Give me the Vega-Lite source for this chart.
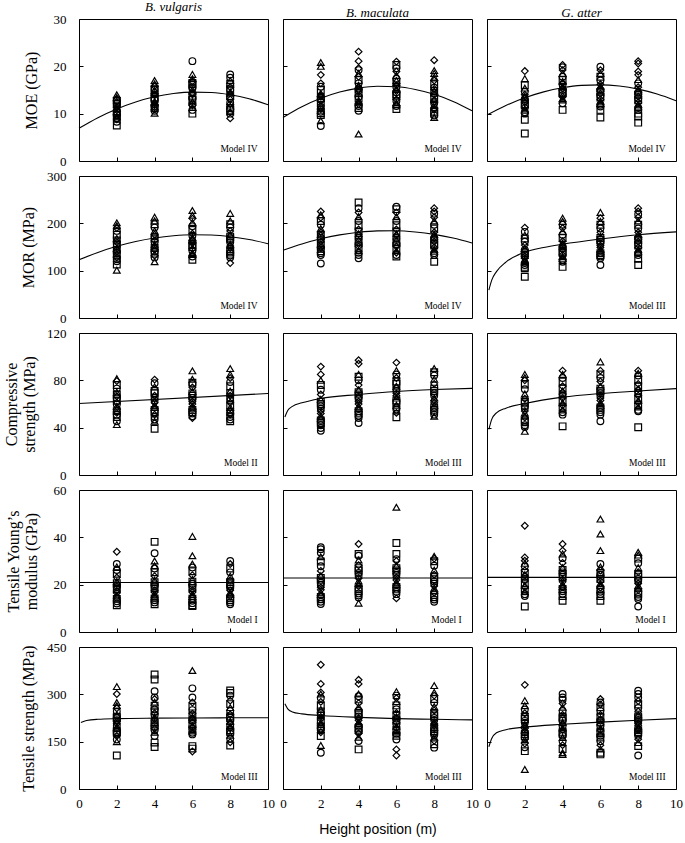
{
"$schema":"https://vega.github.io/schema/vega-lite/v6.json",
"padding":{"left":3,"top":0,"right":5,"bottom":5},
"columns":3,"align":"each","bounds":"flush","spacing":15,
"datasets":{
"lab":[{"p":"11","t":"Model IV"},{"p":"12","t":"Model IV"},{"p":"13","t":"Model IV"},{"p":"21","t":"Model IV"},{"p":"22","t":"Model IV"},{"p":"23","t":"Model III"},{"p":"31","t":"Model II"},{"p":"32","t":"Model III"},{"p":"33","t":"Model III"},{"p":"41","t":"Model I"},{"p":"42","t":"Model I"},{"p":"43","t":"Model I"},{"p":"51","t":"Model III"},{"p":"52","t":"Model III"},{"p":"53","t":"Model III"}],
"fit":[
{"p":"11","x":0,"y":6.9},{"p":"11","x":1,"y":9.15},{"p":"11","x":2,"y":11.0},{"p":"11","x":3,"y":12.47},{"p":"11","x":4,"y":13.56},{"p":"11","x":5,"y":14.25},{"p":"11","x":6,"y":14.56},{"p":"11","x":7,"y":14.47},{"p":"11","x":8,"y":14.0},{"p":"11","x":9,"y":13.15},{"p":"11","x":10,"y":11.9},
{"p":"12","x":0,"y":9.2},{"p":"12","x":1,"y":11.45},{"p":"12","x":2,"y":13.24},{"p":"12","x":3,"y":14.56},{"p":"12","x":4,"y":15.4},{"p":"12","x":5,"y":15.78},{"p":"12","x":6,"y":15.68},{"p":"12","x":7,"y":15.12},{"p":"12","x":8,"y":14.09},{"p":"12","x":9,"y":12.58},{"p":"12","x":10,"y":10.6},
{"p":"13","x":0,"y":9.7},{"p":"13","x":1,"y":11.72},{"p":"13","x":2,"y":13.36},{"p":"13","x":3,"y":14.61},{"p":"13","x":4,"y":15.48},{"p":"13","x":5,"y":15.98},{"p":"13","x":6,"y":16.09},{"p":"13","x":7,"y":15.83},{"p":"13","x":8,"y":15.18},{"p":"13","x":9,"y":14.15},{"p":"13","x":10,"y":12.75},
{"p":"21","x":0,"y":123},{"p":"21","x":1,"y":138.6},{"p":"21","x":2,"y":151.5},{"p":"21","x":3,"y":161.7},{"p":"21","x":4,"y":169.1},{"p":"21","x":5,"y":173.9},{"p":"21","x":6,"y":175.9},{"p":"21","x":7,"y":175.2},{"p":"21","x":8,"y":171.8},{"p":"21","x":9,"y":165.7},{"p":"21","x":10,"y":157},
{"p":"22","x":0,"y":143},{"p":"22","x":1,"y":156.5},{"p":"22","x":2,"y":167.4},{"p":"22","x":3,"y":175.6},{"p":"22","x":4,"y":181.2},{"p":"22","x":5,"y":184.05},{"p":"22","x":6,"y":184.3},{"p":"22","x":7,"y":181.8},{"p":"22","x":8,"y":176.7},{"p":"22","x":9,"y":168.9},{"p":"22","x":10,"y":158.5},
{"p":"23","x":0.1,"y":59},{"p":"23","x":0.25,"y":80},{"p":"23","x":0.5,"y":98},{"p":"23","x":1,"y":118},{"p":"23","x":2,"y":139},{"p":"23","x":3,"y":149},{"p":"23","x":4,"y":156},{"p":"23","x":6,"y":167},{"p":"23","x":8,"y":176},{"p":"23","x":10,"y":182},
{"p":"31","x":0,"y":60.4},{"p":"31","x":10,"y":68.9},
{"p":"32","x":0.1,"y":49},{"p":"32","x":0.25,"y":54.5},{"p":"32","x":0.5,"y":58},{"p":"32","x":1,"y":61},{"p":"32","x":2,"y":64.7},{"p":"32","x":4,"y":68},{"p":"32","x":6,"y":70.6},{"p":"32","x":8,"y":72.2},{"p":"32","x":10,"y":73.2},
{"p":"33","x":0.1,"y":38.6},{"p":"33","x":0.25,"y":47},{"p":"33","x":0.5,"y":52.5},{"p":"33","x":1,"y":56.5},{"p":"33","x":2,"y":60.4},{"p":"33","x":4,"y":65.8},{"p":"33","x":6,"y":68.9},{"p":"33","x":8,"y":71},{"p":"33","x":10,"y":73},
{"p":"41","x":0,"y":20.9},{"p":"41","x":10,"y":20.9},
{"p":"42","x":0,"y":22.8},{"p":"42","x":10,"y":22.8},
{"p":"43","x":0,"y":23.1},{"p":"43","x":10,"y":23.1},
{"p":"51","x":0.1,"y":211},{"p":"51","x":0.4,"y":217},{"p":"51","x":1,"y":221},{"p":"51","x":2,"y":223},{"p":"51","x":4,"y":224.5},{"p":"51","x":6,"y":225.2},{"p":"51","x":8,"y":225.6},{"p":"51","x":10,"y":226},
{"p":"52","x":0.1,"y":270},{"p":"52","x":0.25,"y":254},{"p":"52","x":0.5,"y":244},{"p":"52","x":1,"y":238},{"p":"52","x":2,"y":233},{"p":"52","x":4,"y":227},{"p":"52","x":6,"y":223},{"p":"52","x":8,"y":221},{"p":"52","x":10,"y":219},
{"p":"53","x":0.1,"y":134},{"p":"53","x":0.25,"y":160},{"p":"53","x":0.5,"y":178},{"p":"53","x":1,"y":188},{"p":"53","x":2,"y":196},{"p":"53","x":4,"y":205},{"p":"53","x":6,"y":212},{"p":"53","x":8,"y":218},{"p":"53","x":10,"y":223}
],
"pts":[
{"p":"11","x":2,"m":"s","y":7.5},{"p":"11","x":2,"m":"o","y":8.3},{"p":"11","x":2,"m":"d","y":8.8},{"p":"11","x":2,"m":"t","y":9.3},{"p":"11","x":2,"m":"o","y":9.8},{"p":"11","x":2,"m":"s","y":10.2},{"p":"11","x":2,"m":"d","y":10.7},{"p":"11","x":2,"m":"t","y":11.1},{"p":"11","x":2,"m":"o","y":11.6},{"p":"11","x":2,"m":"s","y":12.0},{"p":"11","x":2,"m":"d","y":12.5},{"p":"11","x":2,"m":"o","y":12.9},{"p":"11","x":2,"m":"t","y":13.4},{"p":"11","x":2,"m":"t","y":14.0},
{"p":"11","x":4,"m":"t","y":10.1},{"p":"11","x":4,"m":"o","y":10.6},{"p":"11","x":4,"m":"s","y":11.2},{"p":"11","x":4,"m":"d","y":11.8},{"p":"11","x":4,"m":"t","y":12.3},{"p":"11","x":4,"m":"o","y":12.9},{"p":"11","x":4,"m":"s","y":13.4},{"p":"11","x":4,"m":"d","y":13.9},{"p":"11","x":4,"m":"o","y":14.4},{"p":"11","x":4,"m":"t","y":14.9},{"p":"11","x":4,"m":"s","y":15.3},{"p":"11","x":4,"m":"d","y":15.8},{"p":"11","x":4,"m":"t","y":16.3},{"p":"11","x":4,"m":"t","y":17.0},
{"p":"11","x":6,"m":"s","y":10.0},{"p":"11","x":6,"m":"o","y":10.8},{"p":"11","x":6,"m":"d","y":11.7},{"p":"11","x":6,"m":"t","y":12.5},{"p":"11","x":6,"m":"o","y":13.2},{"p":"11","x":6,"m":"s","y":13.8},{"p":"11","x":6,"m":"d","y":14.4},{"p":"11","x":6,"m":"t","y":15.0},{"p":"11","x":6,"m":"o","y":15.6},{"p":"11","x":6,"m":"s","y":16.2},{"p":"11","x":6,"m":"d","y":16.8},{"p":"11","x":6,"m":"t","y":17.4},{"p":"11","x":6,"m":"t","y":18.3},{"p":"11","x":6,"m":"o","y":21.1},
{"p":"11","x":8,"m":"d","y":9.0},{"p":"11","x":8,"m":"o","y":10.0},{"p":"11","x":8,"m":"s","y":10.8},{"p":"11","x":8,"m":"t","y":11.6},{"p":"11","x":8,"m":"o","y":12.3},{"p":"11","x":8,"m":"d","y":13.0},{"p":"11","x":8,"m":"s","y":13.7},{"p":"11","x":8,"m":"t","y":14.3},{"p":"11","x":8,"m":"o","y":15.0},{"p":"11","x":8,"m":"d","y":15.6},{"p":"11","x":8,"m":"s","y":16.3},{"p":"11","x":8,"m":"t","y":17.0},{"p":"11","x":8,"m":"o","y":17.6},{"p":"11","x":8,"m":"o","y":18.3},
{"p":"12","x":2,"m":"o","y":7.4},{"p":"12","x":2,"m":"t","y":8.5},{"p":"12","x":2,"m":"s","y":9.7},{"p":"12","x":2,"m":"o","y":10.4},{"p":"12","x":2,"m":"d","y":11.0},{"p":"12","x":2,"m":"t","y":11.7},{"p":"12","x":2,"m":"s","y":12.3},{"p":"12","x":2,"m":"o","y":13.0},{"p":"12","x":2,"m":"d","y":13.6},{"p":"12","x":2,"m":"t","y":14.3},{"p":"12","x":2,"m":"s","y":15.0},{"p":"12","x":2,"m":"o","y":15.7},{"p":"12","x":2,"m":"d","y":16.4},{"p":"12","x":2,"m":"d","y":18.2},{"p":"12","x":2,"m":"t","y":20.0},{"p":"12","x":2,"m":"t","y":20.8},
{"p":"12","x":4,"m":"t","y":5.7},{"p":"12","x":4,"m":"o","y":10.6},{"p":"12","x":4,"m":"s","y":11.2},{"p":"12","x":4,"m":"d","y":12.0},{"p":"12","x":4,"m":"t","y":12.8},{"p":"12","x":4,"m":"o","y":13.6},{"p":"12","x":4,"m":"s","y":14.3},{"p":"12","x":4,"m":"d","y":15.0},{"p":"12","x":4,"m":"t","y":15.7},{"p":"12","x":4,"m":"o","y":16.4},{"p":"12","x":4,"m":"s","y":17.1},{"p":"12","x":4,"m":"d","y":17.8},{"p":"12","x":4,"m":"t","y":18.5},{"p":"12","x":4,"m":"o","y":19.2},{"p":"12","x":4,"m":"d","y":19.6},{"p":"12","x":4,"m":"d","y":21.1},{"p":"12","x":4,"m":"d","y":23.1},
{"p":"12","x":6,"m":"s","y":11.0},{"p":"12","x":6,"m":"o","y":11.6},{"p":"12","x":6,"m":"t","y":12.3},{"p":"12","x":6,"m":"d","y":13.0},{"p":"12","x":6,"m":"s","y":13.8},{"p":"12","x":6,"m":"o","y":14.5},{"p":"12","x":6,"m":"t","y":15.2},{"p":"12","x":6,"m":"d","y":16.0},{"p":"12","x":6,"m":"s","y":16.7},{"p":"12","x":6,"m":"o","y":17.4},{"p":"12","x":6,"m":"t","y":18.1},{"p":"12","x":6,"m":"d","y":18.9},{"p":"12","x":6,"m":"o","y":19.6},{"p":"12","x":6,"m":"s","y":20.3},{"p":"12","x":6,"m":"d","y":21.0},
{"p":"12","x":8,"m":"t","y":9.2},{"p":"12","x":8,"m":"o","y":9.6},{"p":"12","x":8,"m":"s","y":10.4},{"p":"12","x":8,"m":"d","y":11.1},{"p":"12","x":8,"m":"t","y":11.9},{"p":"12","x":8,"m":"o","y":12.6},{"p":"12","x":8,"m":"s","y":13.3},{"p":"12","x":8,"m":"d","y":14.0},{"p":"12","x":8,"m":"t","y":14.8},{"p":"12","x":8,"m":"o","y":15.5},{"p":"12","x":8,"m":"s","y":16.2},{"p":"12","x":8,"m":"d","y":17.0},{"p":"12","x":8,"m":"t","y":17.7},{"p":"12","x":8,"m":"t","y":18.5},{"p":"12","x":8,"m":"t","y":19.1},{"p":"12","x":8,"m":"d","y":21.3},
{"p":"13","x":2,"m":"s","y":5.8},{"p":"13","x":2,"m":"s","y":8.7},{"p":"13","x":2,"m":"o","y":10.0},{"p":"13","x":2,"m":"t","y":10.7},{"p":"13","x":2,"m":"d","y":11.4},{"p":"13","x":2,"m":"s","y":12.0},{"p":"13","x":2,"m":"o","y":12.7},{"p":"13","x":2,"m":"t","y":13.4},{"p":"13","x":2,"m":"d","y":14.0},{"p":"13","x":2,"m":"o","y":14.7},{"p":"13","x":2,"m":"t","y":15.4},{"p":"13","x":2,"m":"s","y":16.0},{"p":"13","x":2,"m":"t","y":17.4},{"p":"13","x":2,"m":"d","y":19.0},
{"p":"13","x":4,"m":"s","y":10.8},{"p":"13","x":4,"m":"o","y":12.2},{"p":"13","x":4,"m":"t","y":12.9},{"p":"13","x":4,"m":"d","y":13.6},{"p":"13","x":4,"m":"s","y":14.3},{"p":"13","x":4,"m":"o","y":15.0},{"p":"13","x":4,"m":"t","y":15.7},{"p":"13","x":4,"m":"d","y":16.4},{"p":"13","x":4,"m":"s","y":17.1},{"p":"13","x":4,"m":"o","y":17.8},{"p":"13","x":4,"m":"t","y":18.5},{"p":"13","x":4,"m":"d","y":19.2},{"p":"13","x":4,"m":"o","y":19.8},{"p":"13","x":4,"m":"d","y":20.3},
{"p":"13","x":6,"m":"s","y":9.2},{"p":"13","x":6,"m":"s","y":10.8},{"p":"13","x":6,"m":"o","y":11.5},{"p":"13","x":6,"m":"t","y":12.2},{"p":"13","x":6,"m":"d","y":13.0},{"p":"13","x":6,"m":"o","y":13.8},{"p":"13","x":6,"m":"s","y":14.6},{"p":"13","x":6,"m":"t","y":15.4},{"p":"13","x":6,"m":"d","y":16.2},{"p":"13","x":6,"m":"o","y":17.0},{"p":"13","x":6,"m":"s","y":17.8},{"p":"13","x":6,"m":"t","y":18.5},{"p":"13","x":6,"m":"d","y":19.2},{"p":"13","x":6,"m":"o","y":19.9},
{"p":"13","x":8,"m":"s","y":8.1},{"p":"13","x":8,"m":"s","y":9.4},{"p":"13","x":8,"m":"s","y":10.0},{"p":"13","x":8,"m":"o","y":10.8},{"p":"13","x":8,"m":"t","y":11.6},{"p":"13","x":8,"m":"d","y":12.4},{"p":"13","x":8,"m":"o","y":13.2},{"p":"13","x":8,"m":"s","y":14.0},{"p":"13","x":8,"m":"t","y":14.8},{"p":"13","x":8,"m":"d","y":15.6},{"p":"13","x":8,"m":"o","y":16.4},{"p":"13","x":8,"m":"t","y":17.2},{"p":"13","x":8,"m":"d","y":18.2},{"p":"13","x":8,"m":"d","y":18.9},{"p":"13","x":8,"m":"d","y":20.6},{"p":"13","x":8,"m":"d","y":21.1},
{"p":"21","x":2,"m":"t","y":101},{"p":"21","x":2,"m":"s","y":113},{"p":"21","x":2,"m":"o","y":120},{"p":"21","x":2,"m":"d","y":128},{"p":"21","x":2,"m":"t","y":136},{"p":"21","x":2,"m":"s","y":144},{"p":"21","x":2,"m":"o","y":152},{"p":"21","x":2,"m":"d","y":160},{"p":"21","x":2,"m":"t","y":168},{"p":"21","x":2,"m":"s","y":176},{"p":"21","x":2,"m":"o","y":184},{"p":"21","x":2,"m":"d","y":190},{"p":"21","x":2,"m":"t","y":195},{"p":"21","x":2,"m":"t","y":201},
{"p":"21","x":4,"m":"t","y":119},{"p":"21","x":4,"m":"o","y":128},{"p":"21","x":4,"m":"s","y":136},{"p":"21","x":4,"m":"d","y":144},{"p":"21","x":4,"m":"t","y":152},{"p":"21","x":4,"m":"o","y":160},{"p":"21","x":4,"m":"s","y":168},{"p":"21","x":4,"m":"d","y":176},{"p":"21","x":4,"m":"t","y":184},{"p":"21","x":4,"m":"o","y":191},{"p":"21","x":4,"m":"s","y":198},{"p":"21","x":4,"m":"t","y":205},{"p":"21","x":4,"m":"t","y":213},
{"p":"21","x":6,"m":"s","y":123},{"p":"21","x":6,"m":"o","y":130},{"p":"21","x":6,"m":"t","y":138},{"p":"21","x":6,"m":"d","y":146},{"p":"21","x":6,"m":"s","y":154},{"p":"21","x":6,"m":"o","y":162},{"p":"21","x":6,"m":"t","y":170},{"p":"21","x":6,"m":"d","y":178},{"p":"21","x":6,"m":"s","y":186},{"p":"21","x":6,"m":"o","y":194},{"p":"21","x":6,"m":"t","y":202},{"p":"21","x":6,"m":"d","y":210},{"p":"21","x":6,"m":"t","y":217},{"p":"21","x":6,"m":"t","y":227},
{"p":"21","x":8,"m":"d","y":116},{"p":"21","x":8,"m":"o","y":128},{"p":"21","x":8,"m":"s","y":136},{"p":"21","x":8,"m":"t","y":144},{"p":"21","x":8,"m":"d","y":152},{"p":"21","x":8,"m":"o","y":160},{"p":"21","x":8,"m":"s","y":168},{"p":"21","x":8,"m":"t","y":176},{"p":"21","x":8,"m":"d","y":184},{"p":"21","x":8,"m":"o","y":191},{"p":"21","x":8,"m":"s","y":198},{"p":"21","x":8,"m":"t","y":205},{"p":"21","x":8,"m":"t","y":221},
{"p":"22","x":2,"m":"o","y":115},{"p":"22","x":2,"m":"o","y":133},{"p":"22","x":2,"m":"s","y":141},{"p":"22","x":2,"m":"d","y":149},{"p":"22","x":2,"m":"t","y":157},{"p":"22","x":2,"m":"o","y":165},{"p":"22","x":2,"m":"s","y":173},{"p":"22","x":2,"m":"d","y":181},{"p":"22","x":2,"m":"t","y":189},{"p":"22","x":2,"m":"o","y":197},{"p":"22","x":2,"m":"s","y":205},{"p":"22","x":2,"m":"d","y":212},{"p":"22","x":2,"m":"t","y":218},{"p":"22","x":2,"m":"d","y":225},
{"p":"22","x":4,"m":"o","y":126},{"p":"22","x":4,"m":"o","y":133},{"p":"22","x":4,"m":"t","y":142},{"p":"22","x":4,"m":"d","y":151},{"p":"22","x":4,"m":"s","y":160},{"p":"22","x":4,"m":"o","y":169},{"p":"22","x":4,"m":"t","y":178},{"p":"22","x":4,"m":"d","y":187},{"p":"22","x":4,"m":"s","y":196},{"p":"22","x":4,"m":"o","y":205},{"p":"22","x":4,"m":"t","y":214},{"p":"22","x":4,"m":"d","y":223},{"p":"22","x":4,"m":"o","y":232},{"p":"22","x":4,"m":"s","y":244},
{"p":"22","x":6,"m":"s","y":130},{"p":"22","x":6,"m":"o","y":133},{"p":"22","x":6,"m":"t","y":142},{"p":"22","x":6,"m":"d","y":151},{"p":"22","x":6,"m":"s","y":160},{"p":"22","x":6,"m":"o","y":169},{"p":"22","x":6,"m":"t","y":178},{"p":"22","x":6,"m":"d","y":187},{"p":"22","x":6,"m":"s","y":196},{"p":"22","x":6,"m":"o","y":205},{"p":"22","x":6,"m":"t","y":214},{"p":"22","x":6,"m":"d","y":223},{"p":"22","x":6,"m":"s","y":230},{"p":"22","x":6,"m":"o","y":235},
{"p":"22","x":8,"m":"s","y":119},{"p":"22","x":8,"m":"o","y":133},{"p":"22","x":8,"m":"t","y":141},{"p":"22","x":8,"m":"d","y":149},{"p":"22","x":8,"m":"s","y":157},{"p":"22","x":8,"m":"o","y":165},{"p":"22","x":8,"m":"t","y":173},{"p":"22","x":8,"m":"d","y":181},{"p":"22","x":8,"m":"s","y":189},{"p":"22","x":8,"m":"o","y":197},{"p":"22","x":8,"m":"t","y":205},{"p":"22","x":8,"m":"d","y":213},{"p":"22","x":8,"m":"o","y":220},{"p":"22","x":8,"m":"d","y":225},{"p":"22","x":8,"m":"d","y":232},
{"p":"23","x":2,"m":"s","y":87},{"p":"23","x":2,"m":"s","y":105},{"p":"23","x":2,"m":"o","y":112},{"p":"23","x":2,"m":"t","y":119},{"p":"23","x":2,"m":"d","y":126},{"p":"23","x":2,"m":"s","y":133},{"p":"23","x":2,"m":"o","y":140},{"p":"23","x":2,"m":"t","y":147},{"p":"23","x":2,"m":"d","y":154},{"p":"23","x":2,"m":"o","y":161},{"p":"23","x":2,"m":"s","y":168},{"p":"23","x":2,"m":"t","y":175},{"p":"23","x":2,"m":"o","y":182},{"p":"23","x":2,"m":"d","y":191},
{"p":"23","x":4,"m":"s","y":108},{"p":"23","x":4,"m":"o","y":119},{"p":"23","x":4,"m":"t","y":126},{"p":"23","x":4,"m":"d","y":133},{"p":"23","x":4,"m":"s","y":140},{"p":"23","x":4,"m":"o","y":147},{"p":"23","x":4,"m":"t","y":155},{"p":"23","x":4,"m":"d","y":162},{"p":"23","x":4,"m":"s","y":169},{"p":"23","x":4,"m":"o","y":176},{"p":"23","x":4,"m":"t","y":183},{"p":"23","x":4,"m":"d","y":190},{"p":"23","x":4,"m":"o","y":197},{"p":"23","x":4,"m":"t","y":204},{"p":"23","x":4,"m":"t","y":211},
{"p":"23","x":6,"m":"o","y":112},{"p":"23","x":6,"m":"o","y":126},{"p":"23","x":6,"m":"s","y":133},{"p":"23","x":6,"m":"t","y":141},{"p":"23","x":6,"m":"d","y":149},{"p":"23","x":6,"m":"o","y":157},{"p":"23","x":6,"m":"s","y":165},{"p":"23","x":6,"m":"t","y":173},{"p":"23","x":6,"m":"d","y":181},{"p":"23","x":6,"m":"o","y":189},{"p":"23","x":6,"m":"s","y":197},{"p":"23","x":6,"m":"t","y":204},{"p":"23","x":6,"m":"d","y":211},{"p":"23","x":6,"m":"t","y":223},
{"p":"23","x":8,"m":"s","y":112},{"p":"23","x":8,"m":"s","y":125},{"p":"23","x":8,"m":"o","y":133},{"p":"23","x":8,"m":"t","y":141},{"p":"23","x":8,"m":"d","y":149},{"p":"23","x":8,"m":"o","y":157},{"p":"23","x":8,"m":"s","y":165},{"p":"23","x":8,"m":"t","y":173},{"p":"23","x":8,"m":"d","y":181},{"p":"23","x":8,"m":"o","y":189},{"p":"23","x":8,"m":"s","y":197},{"p":"23","x":8,"m":"t","y":205},{"p":"23","x":8,"m":"d","y":213},{"p":"23","x":8,"m":"o","y":219},{"p":"23","x":8,"m":"d","y":225},{"p":"23","x":8,"m":"d","y":232},
{"p":"31","x":2,"m":"t","y":42.6},{"p":"31","x":2,"m":"o","y":45.4},{"p":"31","x":2,"m":"s","y":49},{"p":"31","x":2,"m":"d","y":52.5},{"p":"31","x":2,"m":"t","y":56},{"p":"31","x":2,"m":"o","y":59.5},{"p":"31","x":2,"m":"s","y":63},{"p":"31","x":2,"m":"d","y":66.5},{"p":"31","x":2,"m":"t","y":70},{"p":"31","x":2,"m":"o","y":73},{"p":"31","x":2,"m":"s","y":76},{"p":"31","x":2,"m":"d","y":79.4},{"p":"31","x":2,"m":"t","y":81.4},
{"p":"31","x":4,"m":"s","y":39.1},{"p":"31","x":4,"m":"t","y":45.4},{"p":"31","x":4,"m":"o","y":47},{"p":"31","x":4,"m":"d","y":51},{"p":"31","x":4,"m":"s","y":55},{"p":"31","x":4,"m":"t","y":59},{"p":"31","x":4,"m":"o","y":63},{"p":"31","x":4,"m":"d","y":67},{"p":"31","x":4,"m":"s","y":71},{"p":"31","x":4,"m":"t","y":74.5},{"p":"31","x":4,"m":"o","y":77.5},{"p":"31","x":4,"m":"d","y":80.6},
{"p":"31","x":6,"m":"d","y":48.2},{"p":"31","x":6,"m":"o","y":49.6},{"p":"31","x":6,"m":"s","y":53},{"p":"31","x":6,"m":"t","y":56.5},{"p":"31","x":6,"m":"d","y":60},{"p":"31","x":6,"m":"o","y":63.5},{"p":"31","x":6,"m":"s","y":67},{"p":"31","x":6,"m":"t","y":70.5},{"p":"31","x":6,"m":"d","y":74},{"p":"31","x":6,"m":"o","y":77},{"p":"31","x":6,"m":"s","y":78},{"p":"31","x":6,"m":"t","y":80.9},{"p":"31","x":6,"m":"t","y":88},
{"p":"31","x":8,"m":"s","y":45.4},{"p":"31","x":8,"m":"o","y":46.8},{"p":"31","x":8,"m":"d","y":51},{"p":"31","x":8,"m":"t","y":55},{"p":"31","x":8,"m":"s","y":59},{"p":"31","x":8,"m":"o","y":63},{"p":"31","x":8,"m":"d","y":67},{"p":"31","x":8,"m":"t","y":71},{"p":"31","x":8,"m":"s","y":75},{"p":"31","x":8,"m":"o","y":78.5},{"p":"31","x":8,"m":"d","y":82},{"p":"31","x":8,"m":"t","y":85},{"p":"31","x":8,"m":"t","y":89.9},
{"p":"32","x":2,"m":"o","y":37.4},{"p":"32","x":2,"m":"o","y":39.7},{"p":"32","x":2,"m":"s","y":44},{"p":"32","x":2,"m":"t","y":48},{"p":"32","x":2,"m":"d","y":52},{"p":"32","x":2,"m":"o","y":56},{"p":"32","x":2,"m":"s","y":60},{"p":"32","x":2,"m":"t","y":64},{"p":"32","x":2,"m":"d","y":68},{"p":"32","x":2,"m":"o","y":72},{"p":"32","x":2,"m":"s","y":76},{"p":"32","x":2,"m":"t","y":80},{"p":"32","x":2,"m":"d","y":85},{"p":"32","x":2,"m":"d","y":91.6},
{"p":"32","x":4,"m":"o","y":44},{"p":"32","x":4,"m":"o","y":48.2},{"p":"32","x":4,"m":"s","y":52},{"p":"32","x":4,"m":"t","y":56},{"p":"32","x":4,"m":"d","y":60},{"p":"32","x":4,"m":"o","y":64},{"p":"32","x":4,"m":"s","y":68},{"p":"32","x":4,"m":"t","y":72},{"p":"32","x":4,"m":"d","y":76},{"p":"32","x":4,"m":"o","y":80},{"p":"32","x":4,"m":"s","y":83},{"p":"32","x":4,"m":"t","y":85},{"p":"32","x":4,"m":"d","y":94},{"p":"32","x":4,"m":"d","y":97},
{"p":"32","x":6,"m":"s","y":48.8},{"p":"32","x":6,"m":"d","y":52.5},{"p":"32","x":6,"m":"o","y":55.3},{"p":"32","x":6,"m":"t","y":59},{"p":"32","x":6,"m":"s","y":63},{"p":"32","x":6,"m":"d","y":67},{"p":"32","x":6,"m":"o","y":71},{"p":"32","x":6,"m":"t","y":75},{"p":"32","x":6,"m":"s","y":79},{"p":"32","x":6,"m":"d","y":82},{"p":"32","x":6,"m":"o","y":85},{"p":"32","x":6,"m":"t","y":88.2},{"p":"32","x":6,"m":"d","y":95},
{"p":"32","x":8,"m":"t","y":49.6},{"p":"32","x":8,"m":"o","y":53},{"p":"32","x":8,"m":"s","y":57},{"p":"32","x":8,"m":"d","y":61},{"p":"32","x":8,"m":"t","y":65},{"p":"32","x":8,"m":"o","y":69},{"p":"32","x":8,"m":"s","y":73},{"p":"32","x":8,"m":"d","y":77},{"p":"32","x":8,"m":"t","y":81},{"p":"32","x":8,"m":"o","y":84},{"p":"32","x":8,"m":"s","y":86.8},{"p":"32","x":8,"m":"t","y":90},
{"p":"33","x":2,"m":"t","y":36.9},{"p":"33","x":2,"m":"o","y":40.5},{"p":"33","x":2,"m":"s","y":44.5},{"p":"33","x":2,"m":"d","y":48.5},{"p":"33","x":2,"m":"t","y":52.5},{"p":"33","x":2,"m":"o","y":56.5},{"p":"33","x":2,"m":"s","y":60.5},{"p":"33","x":2,"m":"d","y":64.5},{"p":"33","x":2,"m":"t","y":68.5},{"p":"33","x":2,"m":"o","y":72.5},{"p":"33","x":2,"m":"s","y":76.5},{"p":"33","x":2,"m":"d","y":80},{"p":"33","x":2,"m":"t","y":82.3},{"p":"33","x":2,"m":"t","y":85},
{"p":"33","x":4,"m":"s","y":41.1},{"p":"33","x":4,"m":"o","y":51},{"p":"33","x":4,"m":"t","y":55},{"p":"33","x":4,"m":"d","y":59},{"p":"33","x":4,"m":"s","y":63},{"p":"33","x":4,"m":"o","y":67},{"p":"33","x":4,"m":"t","y":71},{"p":"33","x":4,"m":"d","y":75},{"p":"33","x":4,"m":"s","y":79},{"p":"33","x":4,"m":"o","y":82},{"p":"33","x":4,"m":"t","y":85},{"p":"33","x":4,"m":"d","y":88.2},
{"p":"33","x":6,"m":"o","y":45.4},{"p":"33","x":6,"m":"o","y":51},{"p":"33","x":6,"m":"s","y":55},{"p":"33","x":6,"m":"t","y":59},{"p":"33","x":6,"m":"d","y":63},{"p":"33","x":6,"m":"o","y":67},{"p":"33","x":6,"m":"s","y":71},{"p":"33","x":6,"m":"t","y":75},{"p":"33","x":6,"m":"d","y":79},{"p":"33","x":6,"m":"o","y":82},{"p":"33","x":6,"m":"s","y":85},{"p":"33","x":6,"m":"d","y":88.2},{"p":"33","x":6,"m":"t","y":95.6},
{"p":"33","x":8,"m":"s","y":40.3},{"p":"33","x":8,"m":"o","y":53.9},{"p":"33","x":8,"m":"t","y":57.5},{"p":"33","x":8,"m":"d","y":61},{"p":"33","x":8,"m":"s","y":65},{"p":"33","x":8,"m":"o","y":69},{"p":"33","x":8,"m":"t","y":73},{"p":"33","x":8,"m":"d","y":77},{"p":"33","x":8,"m":"s","y":80.5},{"p":"33","x":8,"m":"o","y":84},{"p":"33","x":8,"m":"t","y":86},{"p":"33","x":8,"m":"d","y":88.2},
{"p":"41","x":2,"m":"s","y":11.3},{"p":"41","x":2,"m":"o","y":13},{"p":"41","x":2,"m":"t","y":14.8},{"p":"41","x":2,"m":"d","y":16.5},{"p":"41","x":2,"m":"s","y":18.2},{"p":"41","x":2,"m":"o","y":19.8},{"p":"41","x":2,"m":"t","y":21.4},{"p":"41","x":2,"m":"d","y":23},{"p":"41","x":2,"m":"s","y":24.6},{"p":"41","x":2,"m":"o","y":26.2},{"p":"41","x":2,"m":"t","y":27.5},{"p":"41","x":2,"m":"o","y":28.7},{"p":"41","x":2,"m":"d","y":33.9},
{"p":"41","x":4,"m":"s","y":11.7},{"p":"41","x":4,"m":"o","y":13.4},{"p":"41","x":4,"m":"t","y":15.1},{"p":"41","x":4,"m":"d","y":16.8},{"p":"41","x":4,"m":"s","y":18.5},{"p":"41","x":4,"m":"o","y":20.2},{"p":"41","x":4,"m":"t","y":21.9},{"p":"41","x":4,"m":"d","y":23.6},{"p":"41","x":4,"m":"s","y":25.2},{"p":"41","x":4,"m":"o","y":26.8},{"p":"41","x":4,"m":"t","y":28},{"p":"41","x":4,"m":"t","y":30},{"p":"41","x":4,"m":"o","y":33.3},{"p":"41","x":4,"m":"s","y":38.1},
{"p":"41","x":6,"m":"s","y":11},{"p":"41","x":6,"m":"s","y":11.3},{"p":"41","x":6,"m":"o","y":13.2},{"p":"41","x":6,"m":"t","y":15},{"p":"41","x":6,"m":"d","y":16.8},{"p":"41","x":6,"m":"s","y":18.6},{"p":"41","x":6,"m":"o","y":20.4},{"p":"41","x":6,"m":"t","y":22.2},{"p":"41","x":6,"m":"d","y":24},{"p":"41","x":6,"m":"s","y":25.7},{"p":"41","x":6,"m":"o","y":27.3},{"p":"41","x":6,"m":"t","y":28.7},{"p":"41","x":6,"m":"t","y":32.2},{"p":"41","x":6,"m":"t","y":40.4},
{"p":"41","x":8,"m":"o","y":11.7},{"p":"41","x":8,"m":"s","y":13.4},{"p":"41","x":8,"m":"d","y":15.1},{"p":"41","x":8,"m":"t","y":16.8},{"p":"41","x":8,"m":"o","y":18.5},{"p":"41","x":8,"m":"s","y":20.2},{"p":"41","x":8,"m":"d","y":21.9},{"p":"41","x":8,"m":"t","y":23.6},{"p":"41","x":8,"m":"o","y":25.2},{"p":"41","x":8,"m":"s","y":26.8},{"p":"41","x":8,"m":"d","y":28.7},{"p":"41","x":8,"m":"o","y":30},
{"p":"42","x":2,"m":"o","y":11.8},{"p":"42","x":2,"m":"s","y":13.8},{"p":"42","x":2,"m":"t","y":15.8},{"p":"42","x":2,"m":"d","y":17.8},{"p":"42","x":2,"m":"o","y":19.8},{"p":"42","x":2,"m":"s","y":21.8},{"p":"42","x":2,"m":"t","y":23.8},{"p":"42","x":2,"m":"d","y":25.8},{"p":"42","x":2,"m":"o","y":27.8},{"p":"42","x":2,"m":"s","y":29.8},{"p":"42","x":2,"m":"t","y":31.8},{"p":"42","x":2,"m":"o","y":33.5},{"p":"42","x":2,"m":"o","y":35},{"p":"42","x":2,"m":"o","y":35.8},
{"p":"42","x":4,"m":"t","y":12.2},{"p":"42","x":4,"m":"o","y":14.6},{"p":"42","x":4,"m":"o","y":15.4},{"p":"42","x":4,"m":"s","y":17.2},{"p":"42","x":4,"m":"d","y":19.4},{"p":"42","x":4,"m":"t","y":21.6},{"p":"42","x":4,"m":"o","y":23.8},{"p":"42","x":4,"m":"s","y":26},{"p":"42","x":4,"m":"d","y":28.2},{"p":"42","x":4,"m":"t","y":30.4},{"p":"42","x":4,"m":"o","y":32.2},{"p":"42","x":4,"m":"s","y":33},{"p":"42","x":4,"m":"d","y":37.2},
{"p":"42","x":6,"m":"d","y":14.2},{"p":"42","x":6,"m":"o","y":16},{"p":"42","x":6,"m":"s","y":18},{"p":"42","x":6,"m":"t","y":20},{"p":"42","x":6,"m":"d","y":22},{"p":"42","x":6,"m":"o","y":24},{"p":"42","x":6,"m":"s","y":26},{"p":"42","x":6,"m":"t","y":28},{"p":"42","x":6,"m":"d","y":30},{"p":"42","x":6,"m":"o","y":30.8},{"p":"42","x":6,"m":"s","y":33},{"p":"42","x":6,"m":"s","y":37.6},{"p":"42","x":6,"m":"t","y":52.7},
{"p":"42","x":8,"m":"o","y":12.8},{"p":"42","x":8,"m":"s","y":14.7},{"p":"42","x":8,"m":"d","y":16.6},{"p":"42","x":8,"m":"t","y":18.5},{"p":"42","x":8,"m":"o","y":20.4},{"p":"42","x":8,"m":"s","y":22.3},{"p":"42","x":8,"m":"d","y":24.2},{"p":"42","x":8,"m":"t","y":26.1},{"p":"42","x":8,"m":"o","y":28},{"p":"42","x":8,"m":"s","y":29.9},{"p":"42","x":8,"m":"d","y":31},{"p":"42","x":8,"m":"t","y":32},
{"p":"43","x":2,"m":"s","y":10.8},{"p":"43","x":2,"m":"o","y":15.2},{"p":"43","x":2,"m":"t","y":17},{"p":"43","x":2,"m":"d","y":18.8},{"p":"43","x":2,"m":"s","y":20.6},{"p":"43","x":2,"m":"o","y":22.4},{"p":"43","x":2,"m":"t","y":24.2},{"p":"43","x":2,"m":"d","y":26},{"p":"43","x":2,"m":"o","y":27.8},{"p":"43","x":2,"m":"t","y":29},{"p":"43","x":2,"m":"d","y":30.1},{"p":"43","x":2,"m":"d","y":31.5},{"p":"43","x":2,"m":"d","y":44.9},
{"p":"43","x":4,"m":"s","y":13.2},{"p":"43","x":4,"m":"s","y":15.2},{"p":"43","x":4,"m":"o","y":17.2},{"p":"43","x":4,"m":"t","y":19.2},{"p":"43","x":4,"m":"d","y":21.2},{"p":"43","x":4,"m":"s","y":23.2},{"p":"43","x":4,"m":"o","y":25.2},{"p":"43","x":4,"m":"t","y":27.2},{"p":"43","x":4,"m":"d","y":29.2},{"p":"43","x":4,"m":"o","y":31.2},{"p":"43","x":4,"m":"t","y":33},{"p":"43","x":4,"m":"d","y":34.4},{"p":"43","x":4,"m":"d","y":37.2},
{"p":"43","x":6,"m":"s","y":13.2},{"p":"43","x":6,"m":"s","y":15.2},{"p":"43","x":6,"m":"o","y":17},{"p":"43","x":6,"m":"d","y":18.8},{"p":"43","x":6,"m":"t","y":20.6},{"p":"43","x":6,"m":"s","y":22.4},{"p":"43","x":6,"m":"o","y":24.2},{"p":"43","x":6,"m":"d","y":26},{"p":"43","x":6,"m":"t","y":27.5},{"p":"43","x":6,"m":"o","y":28.7},{"p":"43","x":6,"m":"t","y":34.4},{"p":"43","x":6,"m":"t","y":41.4},{"p":"43","x":6,"m":"t","y":47.7},
{"p":"43","x":8,"m":"o","y":10.8},{"p":"43","x":8,"m":"o","y":13.9},{"p":"43","x":8,"m":"s","y":15.8},{"p":"43","x":8,"m":"d","y":17.7},{"p":"43","x":8,"m":"t","y":19.6},{"p":"43","x":8,"m":"o","y":21.5},{"p":"43","x":8,"m":"s","y":23.4},{"p":"43","x":8,"m":"d","y":25.3},{"p":"43","x":8,"m":"t","y":27.2},{"p":"43","x":8,"m":"o","y":29.1},{"p":"43","x":8,"m":"s","y":31},{"p":"43","x":8,"m":"t","y":32.5},{"p":"43","x":8,"m":"t","y":33.7},
{"p":"51","x":2,"m":"s","y":106},{"p":"51","x":2,"m":"t","y":150},{"p":"51","x":2,"m":"o","y":157},{"p":"51","x":2,"m":"d","y":168},{"p":"51","x":2,"m":"s","y":180},{"p":"51","x":2,"m":"t","y":191},{"p":"51","x":2,"m":"o","y":202},{"p":"51","x":2,"m":"d","y":213},{"p":"51","x":2,"m":"s","y":224},{"p":"51","x":2,"m":"t","y":235},{"p":"51","x":2,"m":"o","y":246},{"p":"51","x":2,"m":"d","y":256},{"p":"51","x":2,"m":"t","y":264},{"p":"51","x":2,"m":"t","y":274},{"p":"51","x":2,"m":"d","y":301},{"p":"51","x":2,"m":"t","y":324.5},
{"p":"51","x":4,"m":"s","y":133},{"p":"51","x":4,"m":"s","y":147},{"p":"51","x":4,"m":"o","y":168},{"p":"51","x":4,"m":"t","y":180},{"p":"51","x":4,"m":"d","y":192},{"p":"51","x":4,"m":"s","y":204},{"p":"51","x":4,"m":"o","y":216},{"p":"51","x":4,"m":"t","y":228},{"p":"51","x":4,"m":"d","y":240},{"p":"51","x":4,"m":"o","y":252},{"p":"51","x":4,"m":"s","y":264},{"p":"51","x":4,"m":"t","y":275},{"p":"51","x":4,"m":"d","y":285},{"p":"51","x":4,"m":"o","y":290},{"p":"51","x":4,"m":"o","y":309.6},{"p":"51","x":4,"m":"s","y":347},{"p":"51","x":4,"m":"s","y":363},
{"p":"51","x":6,"m":"d","y":119},{"p":"51","x":6,"m":"s","y":128},{"p":"51","x":6,"m":"s","y":136},{"p":"51","x":6,"m":"o","y":173},{"p":"51","x":6,"m":"t","y":184},{"p":"51","x":6,"m":"d","y":195},{"p":"51","x":6,"m":"s","y":206},{"p":"51","x":6,"m":"o","y":217},{"p":"51","x":6,"m":"t","y":228},{"p":"51","x":6,"m":"d","y":239},{"p":"51","x":6,"m":"o","y":250},{"p":"51","x":6,"m":"s","y":261},{"p":"51","x":6,"m":"d","y":274},{"p":"51","x":6,"m":"o","y":290},{"p":"51","x":6,"m":"o","y":319},{"p":"51","x":6,"m":"t","y":375.5},
{"p":"51","x":8,"m":"s","y":138},{"p":"51","x":8,"m":"d","y":148},{"p":"51","x":8,"m":"o","y":159},{"p":"51","x":8,"m":"t","y":170},{"p":"51","x":8,"m":"s","y":181},{"p":"51","x":8,"m":"d","y":192},{"p":"51","x":8,"m":"o","y":203},{"p":"51","x":8,"m":"t","y":214},{"p":"51","x":8,"m":"s","y":225},{"p":"51","x":8,"m":"d","y":236},{"p":"51","x":8,"m":"o","y":247},{"p":"51","x":8,"m":"t","y":258},{"p":"51","x":8,"m":"s","y":269},{"p":"51","x":8,"m":"d","y":280},{"p":"51","x":8,"m":"o","y":296},{"p":"51","x":8,"m":"s","y":304},{"p":"51","x":8,"m":"s","y":312},
{"p":"52","x":2,"m":"o","y":115},{"p":"52","x":2,"m":"t","y":138},{"p":"52","x":2,"m":"s","y":168},{"p":"52","x":2,"m":"d","y":180},{"p":"52","x":2,"m":"o","y":192},{"p":"52","x":2,"m":"t","y":204},{"p":"52","x":2,"m":"s","y":216},{"p":"52","x":2,"m":"d","y":228},{"p":"52","x":2,"m":"o","y":240},{"p":"52","x":2,"m":"t","y":252},{"p":"52","x":2,"m":"s","y":264},{"p":"52","x":2,"m":"d","y":276},{"p":"52","x":2,"m":"o","y":288},{"p":"52","x":2,"m":"t","y":301},{"p":"52","x":2,"m":"d","y":306},{"p":"52","x":2,"m":"d","y":333},{"p":"52","x":2,"m":"d","y":393.6},
{"p":"52","x":4,"m":"s","y":125.5},{"p":"52","x":4,"m":"o","y":152},{"p":"52","x":4,"m":"t","y":164},{"p":"52","x":4,"m":"d","y":176},{"p":"52","x":4,"m":"s","y":188},{"p":"52","x":4,"m":"o","y":200},{"p":"52","x":4,"m":"t","y":212},{"p":"52","x":4,"m":"d","y":224},{"p":"52","x":4,"m":"s","y":236},{"p":"52","x":4,"m":"o","y":248},{"p":"52","x":4,"m":"t","y":260},{"p":"52","x":4,"m":"d","y":272},{"p":"52","x":4,"m":"s","y":284},{"p":"52","x":4,"m":"o","y":294},{"p":"52","x":4,"m":"t","y":301},{"p":"52","x":4,"m":"d","y":333},{"p":"52","x":4,"m":"d","y":346},
{"p":"52","x":6,"m":"d","y":106},{"p":"52","x":6,"m":"d","y":125.5},{"p":"52","x":6,"m":"o","y":157},{"p":"52","x":6,"m":"s","y":169},{"p":"52","x":6,"m":"t","y":181},{"p":"52","x":6,"m":"d","y":193},{"p":"52","x":6,"m":"o","y":205},{"p":"52","x":6,"m":"s","y":217},{"p":"52","x":6,"m":"t","y":229},{"p":"52","x":6,"m":"d","y":241},{"p":"52","x":6,"m":"o","y":253},{"p":"52","x":6,"m":"s","y":265},{"p":"52","x":6,"m":"t","y":277},{"p":"52","x":6,"m":"d","y":288},{"p":"52","x":6,"m":"o","y":296},{"p":"52","x":6,"m":"t","y":308.5},
{"p":"52","x":8,"m":"o","y":131},{"p":"52","x":8,"m":"s","y":141.5},{"p":"52","x":8,"m":"d","y":153},{"p":"52","x":8,"m":"t","y":165},{"p":"52","x":8,"m":"o","y":177},{"p":"52","x":8,"m":"s","y":189},{"p":"52","x":8,"m":"d","y":201},{"p":"52","x":8,"m":"t","y":213},{"p":"52","x":8,"m":"o","y":225},{"p":"52","x":8,"m":"s","y":237},{"p":"52","x":8,"m":"d","y":249},{"p":"52","x":8,"m":"t","y":261},{"p":"52","x":8,"m":"o","y":273},{"p":"52","x":8,"m":"s","y":285},{"p":"52","x":8,"m":"d","y":296},{"p":"52","x":8,"m":"t","y":306},{"p":"52","x":8,"m":"t","y":327.7},
{"p":"53","x":2,"m":"t","y":62},{"p":"53","x":2,"m":"s","y":120},{"p":"53","x":2,"m":"o","y":132},{"p":"53","x":2,"m":"d","y":144},{"p":"53","x":2,"m":"t","y":156},{"p":"53","x":2,"m":"s","y":168},{"p":"53","x":2,"m":"o","y":180},{"p":"53","x":2,"m":"d","y":192},{"p":"53","x":2,"m":"t","y":204},{"p":"53","x":2,"m":"o","y":216},{"p":"53","x":2,"m":"s","y":228},{"p":"53","x":2,"m":"d","y":240},{"p":"53","x":2,"m":"o","y":252},{"p":"53","x":2,"m":"t","y":264},{"p":"53","x":2,"m":"t","y":280},{"p":"53","x":2,"m":"d","y":330},
{"p":"53","x":4,"m":"t","y":109.6},{"p":"53","x":4,"m":"t","y":115},{"p":"53","x":4,"m":"s","y":127},{"p":"53","x":4,"m":"d","y":139},{"p":"53","x":4,"m":"o","y":151},{"p":"53","x":4,"m":"t","y":163},{"p":"53","x":4,"m":"s","y":175},{"p":"53","x":4,"m":"d","y":187},{"p":"53","x":4,"m":"o","y":199},{"p":"53","x":4,"m":"t","y":211},{"p":"53","x":4,"m":"s","y":223},{"p":"53","x":4,"m":"d","y":235},{"p":"53","x":4,"m":"o","y":247},{"p":"53","x":4,"m":"t","y":259},{"p":"53","x":4,"m":"d","y":271},{"p":"53","x":4,"m":"o","y":283},{"p":"53","x":4,"m":"o","y":290},{"p":"53","x":4,"m":"o","y":301},
{"p":"53","x":6,"m":"s","y":109.6},{"p":"53","x":6,"m":"s","y":115},{"p":"53","x":6,"m":"t","y":127},{"p":"53","x":6,"m":"d","y":139},{"p":"53","x":6,"m":"o","y":151},{"p":"53","x":6,"m":"s","y":163},{"p":"53","x":6,"m":"t","y":175},{"p":"53","x":6,"m":"d","y":187},{"p":"53","x":6,"m":"o","y":199},{"p":"53","x":6,"m":"s","y":211},{"p":"53","x":6,"m":"t","y":223},{"p":"53","x":6,"m":"d","y":235},{"p":"53","x":6,"m":"o","y":247},{"p":"53","x":6,"m":"s","y":259},{"p":"53","x":6,"m":"d","y":268},{"p":"53","x":6,"m":"o","y":274},{"p":"53","x":6,"m":"d","y":285},
{"p":"53","x":8,"m":"o","y":106},{"p":"53","x":8,"m":"s","y":136},{"p":"53","x":8,"m":"t","y":147},{"p":"53","x":8,"m":"d","y":158},{"p":"53","x":8,"m":"o","y":169},{"p":"53","x":8,"m":"s","y":180},{"p":"53","x":8,"m":"t","y":191},{"p":"53","x":8,"m":"d","y":202},{"p":"53","x":8,"m":"o","y":213},{"p":"53","x":8,"m":"s","y":224},{"p":"53","x":8,"m":"t","y":235},{"p":"53","x":8,"m":"d","y":246},{"p":"53","x":8,"m":"o","y":257},{"p":"53","x":8,"m":"s","y":268},{"p":"53","x":8,"m":"d","y":279},{"p":"53","x":8,"m":"o","y":290},{"p":"53","x":8,"m":"o","y":301},{"p":"53","x":8,"m":"o","y":311.7},
{"p":"11","x":2,"m":"o","y":9.0},{"p":"11","x":2,"m":"s","y":9.6},{"p":"11","x":2,"m":"t","y":10.4},{"p":"11","x":2,"m":"d","y":11.3},{"p":"11","x":2,"m":"o","y":12.2},{"p":"11","x":2,"m":"s","y":12.7},
{"p":"11","x":4,"m":"d","y":10.9},{"p":"11","x":4,"m":"o","y":11.5},{"p":"11","x":4,"m":"t","y":12.6},{"p":"11","x":4,"m":"s","y":13.1},{"p":"11","x":4,"m":"d","y":14.1},{"p":"11","x":4,"m":"o","y":15.1},
{"p":"11","x":6,"m":"t","y":11.3},{"p":"11","x":6,"m":"o","y":12.0},{"p":"11","x":6,"m":"s","y":12.9},{"p":"11","x":6,"m":"d","y":14.1},{"p":"11","x":6,"m":"o","y":15.3},{"p":"11","x":6,"m":"s","y":16.5},
{"p":"11","x":8,"m":"t","y":10.4},{"p":"11","x":8,"m":"s","y":11.2},{"p":"11","x":8,"m":"d","y":12.0},{"p":"11","x":8,"m":"o","y":13.3},{"p":"11","x":8,"m":"t","y":14.6},{"p":"11","x":8,"m":"s","y":15.3},
{"p":"12","x":2,"m":"s","y":10.1},{"p":"12","x":2,"m":"t","y":10.7},{"p":"12","x":2,"m":"o","y":11.4},{"p":"12","x":2,"m":"d","y":12.7},{"p":"12","x":2,"m":"s","y":13.3},{"p":"12","x":2,"m":"t","y":14.0},
{"p":"12","x":4,"m":"o","y":11.6},{"p":"12","x":4,"m":"t","y":12.4},{"p":"12","x":4,"m":"s","y":13.2},{"p":"12","x":4,"m":"d","y":14.6},{"p":"12","x":4,"m":"o","y":15.3},{"p":"12","x":4,"m":"t","y":16.0},
{"p":"12","x":6,"m":"t","y":11.9},{"p":"12","x":6,"m":"o","y":12.7},{"p":"12","x":6,"m":"s","y":14.1},{"p":"12","x":6,"m":"d","y":14.8},{"p":"12","x":6,"m":"o","y":15.6},{"p":"12","x":6,"m":"t","y":17.0},
{"p":"12","x":8,"m":"s","y":10.0},{"p":"12","x":8,"m":"d","y":10.8},{"p":"12","x":8,"m":"o","y":12.2},{"p":"12","x":8,"m":"t","y":13.0},{"p":"12","x":8,"m":"s","y":14.4},{"p":"12","x":8,"m":"d","y":15.2},
{"p":"13","x":2,"m":"o","y":10.3},{"p":"13","x":2,"m":"t","y":11.0},{"p":"13","x":2,"m":"s","y":11.7},{"p":"13","x":2,"m":"d","y":12.4},{"p":"13","x":2,"m":"o","y":13.1},{"p":"13","x":2,"m":"t","y":13.7},
{"p":"13","x":4,"m":"t","y":13.2},{"p":"13","x":4,"m":"o","y":13.9},{"p":"13","x":4,"m":"s","y":14.6},{"p":"13","x":4,"m":"d","y":15.3},{"p":"13","x":4,"m":"o","y":16.1},{"p":"13","x":4,"m":"t","y":16.8},
{"p":"13","x":6,"m":"o","y":11.9},{"p":"13","x":6,"m":"t","y":12.6},{"p":"13","x":6,"m":"s","y":13.4},{"p":"13","x":6,"m":"d","y":14.2},{"p":"13","x":6,"m":"o","y":15.0},{"p":"13","x":6,"m":"t","y":15.8},
{"p":"13","x":8,"m":"o","y":11.2},{"p":"13","x":8,"m":"t","y":12.0},{"p":"13","x":8,"m":"s","y":12.8},{"p":"13","x":8,"m":"d","y":13.6},{"p":"13","x":8,"m":"o","y":14.4},{"p":"13","x":8,"m":"t","y":15.2},
{"p":"21","x":2,"m":"o","y":124},{"p":"21","x":2,"m":"s","y":132},{"p":"21","x":2,"m":"d","y":140},{"p":"21","x":2,"m":"t","y":148},{"p":"21","x":2,"m":"o","y":156},{"p":"21","x":2,"m":"s","y":164},
{"p":"21","x":4,"m":"d","y":132},{"p":"21","x":4,"m":"o","y":140},{"p":"21","x":4,"m":"s","y":148},{"p":"21","x":4,"m":"t","y":156},{"p":"21","x":4,"m":"d","y":164},{"p":"21","x":4,"m":"o","y":172},
{"p":"21","x":6,"m":"t","y":134},{"p":"21","x":6,"m":"o","y":142},{"p":"21","x":6,"m":"s","y":150},{"p":"21","x":6,"m":"d","y":158},{"p":"21","x":6,"m":"t","y":166},{"p":"21","x":6,"m":"o","y":174},
{"p":"21","x":8,"m":"o","y":132},{"p":"21","x":8,"m":"s","y":140},{"p":"21","x":8,"m":"d","y":148},{"p":"21","x":8,"m":"t","y":156},{"p":"21","x":8,"m":"o","y":164},{"p":"21","x":8,"m":"s","y":172},
{"p":"22","x":2,"m":"o","y":137},{"p":"22","x":2,"m":"t","y":145},{"p":"22","x":2,"m":"s","y":153},{"p":"22","x":2,"m":"d","y":161},{"p":"22","x":2,"m":"o","y":169},{"p":"22","x":2,"m":"t","y":177},
{"p":"22","x":4,"m":"o","y":138},{"p":"22","x":4,"m":"s","y":147},{"p":"22","x":4,"m":"d","y":156},{"p":"22","x":4,"m":"t","y":165},{"p":"22","x":4,"m":"o","y":174},{"p":"22","x":4,"m":"s","y":183},
{"p":"22","x":6,"m":"d","y":138},{"p":"22","x":6,"m":"s","y":147},{"p":"22","x":6,"m":"o","y":156},{"p":"22","x":6,"m":"t","y":165},{"p":"22","x":6,"m":"d","y":174},{"p":"22","x":6,"m":"s","y":183},
{"p":"22","x":8,"m":"o","y":137},{"p":"22","x":8,"m":"t","y":145},{"p":"22","x":8,"m":"s","y":153},{"p":"22","x":8,"m":"d","y":161},{"p":"22","x":8,"m":"o","y":169},{"p":"22","x":8,"m":"t","y":177},
{"p":"23","x":2,"m":"s","y":108},{"p":"23","x":2,"m":"o","y":116},{"p":"23","x":2,"m":"t","y":123},{"p":"23","x":2,"m":"d","y":130},{"p":"23","x":2,"m":"s","y":137},{"p":"23","x":2,"m":"o","y":144},
{"p":"23","x":4,"m":"o","y":123},{"p":"23","x":4,"m":"t","y":130},{"p":"23","x":4,"m":"s","y":137},{"p":"23","x":4,"m":"d","y":144},{"p":"23","x":4,"m":"o","y":151},{"p":"23","x":4,"m":"t","y":158},
{"p":"23","x":6,"m":"o","y":130},{"p":"23","x":6,"m":"s","y":137},{"p":"23","x":6,"m":"t","y":145},{"p":"23","x":6,"m":"d","y":153},{"p":"23","x":6,"m":"o","y":161},{"p":"23","x":6,"m":"s","y":169},
{"p":"23","x":8,"m":"o","y":137},{"p":"23","x":8,"m":"t","y":145},{"p":"23","x":8,"m":"s","y":153},{"p":"23","x":8,"m":"d","y":161},{"p":"23","x":8,"m":"o","y":169},{"p":"23","x":8,"m":"t","y":177},
{"p":"31","x":2,"m":"o","y":51},{"p":"31","x":2,"m":"s","y":54},{"p":"31","x":2,"m":"t","y":58},{"p":"31","x":2,"m":"d","y":61},{"p":"31","x":2,"m":"o","y":65},{"p":"31","x":2,"m":"s","y":68},
{"p":"31","x":4,"m":"o","y":49},{"p":"31","x":4,"m":"s","y":53},{"p":"31","x":4,"m":"t","y":57},{"p":"31","x":4,"m":"d","y":61},{"p":"31","x":4,"m":"o","y":65},{"p":"31","x":4,"m":"s","y":69},
{"p":"31","x":6,"m":"o","y":52},{"p":"31","x":6,"m":"s","y":55},{"p":"31","x":6,"m":"t","y":58},{"p":"31","x":6,"m":"d","y":62},{"p":"31","x":6,"m":"o","y":65},{"p":"31","x":6,"m":"s","y":69},
{"p":"31","x":8,"m":"o","y":49},{"p":"31","x":8,"m":"s","y":53},{"p":"31","x":8,"m":"t","y":57},{"p":"31","x":8,"m":"d","y":61},{"p":"31","x":8,"m":"o","y":65},{"p":"31","x":8,"m":"s","y":69},
{"p":"32","x":2,"m":"o","y":42},{"p":"32","x":2,"m":"s","y":46},{"p":"32","x":2,"m":"t","y":50},{"p":"32","x":2,"m":"d","y":54},{"p":"32","x":2,"m":"o","y":58},{"p":"32","x":2,"m":"s","y":62},
{"p":"32","x":4,"m":"o","y":50},{"p":"32","x":4,"m":"s","y":54},{"p":"32","x":4,"m":"t","y":58},{"p":"32","x":4,"m":"d","y":62},{"p":"32","x":4,"m":"o","y":66},{"p":"32","x":4,"m":"s","y":70},
{"p":"32","x":6,"m":"o","y":57},{"p":"32","x":6,"m":"s","y":61},{"p":"32","x":6,"m":"t","y":65},{"p":"32","x":6,"m":"d","y":69},{"p":"32","x":6,"m":"o","y":73},{"p":"32","x":6,"m":"s","y":77},
{"p":"32","x":8,"m":"o","y":51},{"p":"32","x":8,"m":"s","y":55},{"p":"32","x":8,"m":"t","y":59},{"p":"32","x":8,"m":"d","y":63},{"p":"32","x":8,"m":"o","y":67},{"p":"32","x":8,"m":"s","y":71},
{"p":"33","x":2,"m":"o","y":42},{"p":"33","x":2,"m":"s","y":46},{"p":"33","x":2,"m":"t","y":50},{"p":"33","x":2,"m":"d","y":54},{"p":"33","x":2,"m":"o","y":58},{"p":"33","x":2,"m":"s","y":62},
{"p":"33","x":4,"m":"o","y":53},{"p":"33","x":4,"m":"s","y":57},{"p":"33","x":4,"m":"t","y":61},{"p":"33","x":4,"m":"d","y":65},{"p":"33","x":4,"m":"o","y":69},{"p":"33","x":4,"m":"s","y":73},
{"p":"33","x":6,"m":"o","y":53},{"p":"33","x":6,"m":"s","y":57},{"p":"33","x":6,"m":"t","y":61},{"p":"33","x":6,"m":"d","y":65},{"p":"33","x":6,"m":"o","y":69},{"p":"33","x":6,"m":"s","y":73},
{"p":"33","x":8,"m":"o","y":55},{"p":"33","x":8,"m":"s","y":59},{"p":"33","x":8,"m":"t","y":63},{"p":"33","x":8,"m":"d","y":67},{"p":"33","x":8,"m":"o","y":71},{"p":"33","x":8,"m":"s","y":75},
{"p":"41","x":2,"m":"o","y":12},{"p":"41","x":2,"m":"s","y":14},{"p":"41","x":2,"m":"t","y":15.6},{"p":"41","x":2,"m":"d","y":17.3},{"p":"41","x":2,"m":"o","y":19},{"p":"41","x":2,"m":"s","y":20.6},
{"p":"41","x":4,"m":"o","y":12.5},{"p":"41","x":4,"m":"s","y":14.2},{"p":"41","x":4,"m":"t","y":16},{"p":"41","x":4,"m":"d","y":17.6},{"p":"41","x":4,"m":"o","y":19.3},{"p":"41","x":4,"m":"s","y":21},
{"p":"41","x":6,"m":"o","y":12.2},{"p":"41","x":6,"m":"s","y":14.1},{"p":"41","x":6,"m":"t","y":15.9},{"p":"41","x":6,"m":"d","y":17.7},{"p":"41","x":6,"m":"o","y":19.5},{"p":"41","x":6,"m":"s","y":21.3},
{"p":"41","x":8,"m":"o","y":12.5},{"p":"41","x":8,"m":"s","y":14.2},{"p":"41","x":8,"m":"t","y":16},{"p":"41","x":8,"m":"d","y":17.6},{"p":"41","x":8,"m":"o","y":19.3},{"p":"41","x":8,"m":"s","y":21},
{"p":"42","x":2,"m":"o","y":12.8},{"p":"42","x":2,"m":"s","y":14.8},{"p":"42","x":2,"m":"t","y":16.8},{"p":"42","x":2,"m":"d","y":18.8},{"p":"42","x":2,"m":"o","y":20.8},{"p":"42","x":2,"m":"s","y":22.8},
{"p":"42","x":4,"m":"o","y":16.3},{"p":"42","x":4,"m":"s","y":18.3},{"p":"42","x":4,"m":"t","y":20.5},{"p":"42","x":4,"m":"d","y":22.7},{"p":"42","x":4,"m":"o","y":24.9},{"p":"42","x":4,"m":"s","y":27},
{"p":"42","x":6,"m":"o","y":17},{"p":"42","x":6,"m":"s","y":19},{"p":"42","x":6,"m":"t","y":21},{"p":"42","x":6,"m":"d","y":23},{"p":"42","x":6,"m":"o","y":25},{"p":"42","x":6,"m":"s","y":27},
{"p":"42","x":8,"m":"o","y":13.7},{"p":"42","x":8,"m":"s","y":15.6},{"p":"42","x":8,"m":"t","y":17.5},{"p":"42","x":8,"m":"d","y":19.4},{"p":"42","x":8,"m":"o","y":21.3},{"p":"42","x":8,"m":"s","y":23.2},
{"p":"43","x":2,"m":"o","y":16},{"p":"43","x":2,"m":"s","y":17.9},{"p":"43","x":2,"m":"t","y":19.7},{"p":"43","x":2,"m":"d","y":21.5},{"p":"43","x":2,"m":"o","y":23.3},{"p":"43","x":2,"m":"s","y":25},
{"p":"43","x":4,"m":"o","y":16.2},{"p":"43","x":4,"m":"s","y":18.2},{"p":"43","x":4,"m":"t","y":20.2},{"p":"43","x":4,"m":"d","y":22.2},{"p":"43","x":4,"m":"o","y":24.2},{"p":"43","x":4,"m":"s","y":26.2},
{"p":"43","x":6,"m":"o","y":16},{"p":"43","x":6,"m":"s","y":17.9},{"p":"43","x":6,"m":"t","y":19.7},{"p":"43","x":6,"m":"d","y":21.5},{"p":"43","x":6,"m":"o","y":23.3},{"p":"43","x":6,"m":"s","y":25},
{"p":"43","x":8,"m":"o","y":14.8},{"p":"43","x":8,"m":"s","y":16.7},{"p":"43","x":8,"m":"t","y":18.6},{"p":"43","x":8,"m":"d","y":20.5},{"p":"43","x":8,"m":"o","y":22.4},{"p":"43","x":8,"m":"s","y":24.3},
{"p":"51","x":2,"m":"o","y":174},{"p":"51","x":2,"m":"s","y":185},{"p":"51","x":2,"m":"t","y":196},{"p":"51","x":2,"m":"d","y":207},{"p":"51","x":2,"m":"o","y":218},{"p":"51","x":2,"m":"s","y":229},
{"p":"51","x":4,"m":"o","y":186},{"p":"51","x":4,"m":"s","y":198},{"p":"51","x":4,"m":"t","y":210},{"p":"51","x":4,"m":"d","y":222},{"p":"51","x":4,"m":"o","y":234},{"p":"51","x":4,"m":"s","y":246},
{"p":"51","x":6,"m":"o","y":178},{"p":"51","x":6,"m":"s","y":189},{"p":"51","x":6,"m":"t","y":200},{"p":"51","x":6,"m":"d","y":211},{"p":"51","x":6,"m":"o","y":222},{"p":"51","x":6,"m":"s","y":233},
{"p":"51","x":8,"m":"o","y":175},{"p":"51","x":8,"m":"s","y":186},{"p":"51","x":8,"m":"t","y":197},{"p":"51","x":8,"m":"d","y":208},{"p":"51","x":8,"m":"o","y":219},{"p":"51","x":8,"m":"s","y":230},
{"p":"52","x":2,"m":"o","y":186},{"p":"52","x":2,"m":"s","y":198},{"p":"52","x":2,"m":"t","y":210},{"p":"52","x":2,"m":"d","y":222},{"p":"52","x":2,"m":"o","y":234},{"p":"52","x":2,"m":"s","y":246},
{"p":"52","x":4,"m":"o","y":182},{"p":"52","x":4,"m":"s","y":194},{"p":"52","x":4,"m":"t","y":206},{"p":"52","x":4,"m":"d","y":218},{"p":"52","x":4,"m":"o","y":230},{"p":"52","x":4,"m":"s","y":242},
{"p":"52","x":6,"m":"o","y":175},{"p":"52","x":6,"m":"s","y":187},{"p":"52","x":6,"m":"t","y":199},{"p":"52","x":6,"m":"d","y":211},{"p":"52","x":6,"m":"o","y":223},{"p":"52","x":6,"m":"s","y":235},
{"p":"52","x":8,"m":"o","y":171},{"p":"52","x":8,"m":"s","y":183},{"p":"52","x":8,"m":"t","y":195},{"p":"52","x":8,"m":"d","y":207},{"p":"52","x":8,"m":"o","y":219},{"p":"52","x":8,"m":"s","y":231},
{"p":"53","x":2,"m":"o","y":162},{"p":"53","x":2,"m":"s","y":174},{"p":"53","x":2,"m":"t","y":186},{"p":"53","x":2,"m":"d","y":198},{"p":"53","x":2,"m":"o","y":210},{"p":"53","x":2,"m":"s","y":222},
{"p":"53","x":4,"m":"o","y":169},{"p":"53","x":4,"m":"s","y":181},{"p":"53","x":4,"m":"t","y":193},{"p":"53","x":4,"m":"d","y":205},{"p":"53","x":4,"m":"o","y":217},{"p":"53","x":4,"m":"s","y":229},
{"p":"53","x":6,"m":"o","y":169},{"p":"53","x":6,"m":"s","y":181},{"p":"53","x":6,"m":"t","y":193},{"p":"53","x":6,"m":"d","y":205},{"p":"53","x":6,"m":"o","y":217},{"p":"53","x":6,"m":"s","y":229},
{"p":"53","x":8,"m":"o","y":175},{"p":"53","x":8,"m":"s","y":186},{"p":"53","x":8,"m":"t","y":197},{"p":"53","x":8,"m":"d","y":208},{"p":"53","x":8,"m":"o","y":219},{"p":"53","x":8,"m":"s","y":230}
]},
"concat":[
{"width":189,"height":142,"title":"B. vulgaris","layer":[
{"data":{"name":"pts"},"transform":[{"filter":"datum.p=='11'"}],"mark":{"type":"point","filled":false,"color":"black","strokeWidth":1.2,"size":45,"opacity":1},"encoding":{"x":{"field":"x","type":"quantitative","scale":{"domain":[0,10]},"axis":{"values":[2,4,6,8],"labels":false,"title":null}},"y":{"field":"y","type":"quantitative","scale":{"domain":[0,30]},"axis":{"values":[0,10,20,30],"title":"MOE (GPa)","titlePadding":14}},"shape":{"field":"m","type":"nominal","scale":{"domain":["o","s","t","d"],"range":["circle","square","triangle-up","diamond"]},"legend":null}}},
{"data":{"name":"fit"},"transform":[{"filter":"datum.p=='11'"}],"mark":{"type":"line","color":"black","strokeWidth":1.1,"interpolate":"monotone"},"encoding":{"x":{"field":"x","type":"quantitative"},"y":{"field":"y","type":"quantitative"}}},
{"data":{"name":"lab"},"transform":[{"filter":"datum.p=='11'"}],"mark":{"type":"text","align":"right","font":"Liberation Serif","fontSize":9.5,"color":"black"},"encoding":{"text":{"field":"t"},"x":{"datum":9.45},"y":{"datum":2.55}}}]},
{"width":189,"height":142,"title":"B. maculata","layer":[
{"data":{"name":"pts"},"transform":[{"filter":"datum.p=='12'"}],"mark":{"type":"point","filled":false,"color":"black","strokeWidth":1.2,"size":45,"opacity":1},"encoding":{"x":{"field":"x","type":"quantitative","scale":{"domain":[0,10]},"axis":{"values":[2,4,6,8],"labels":false,"title":null}},"y":{"field":"y","type":"quantitative","scale":{"domain":[0,30]},"axis":{"values":[0,10,20,30],"labels":false,"title":null}},"shape":{"field":"m","type":"nominal","scale":{"domain":["o","s","t","d"],"range":["circle","square","triangle-up","diamond"]},"legend":null}}},
{"data":{"name":"fit"},"transform":[{"filter":"datum.p=='12'"}],"mark":{"type":"line","color":"black","strokeWidth":1.1,"interpolate":"monotone"},"encoding":{"x":{"field":"x","type":"quantitative"},"y":{"field":"y","type":"quantitative"}}},
{"data":{"name":"lab"},"transform":[{"filter":"datum.p=='12'"}],"mark":{"type":"text","align":"right","font":"Liberation Serif","fontSize":9.5,"color":"black"},"encoding":{"text":{"field":"t"},"x":{"datum":9.45},"y":{"datum":2.55}}}]},
{"width":189,"height":142,"title":"G. atter","layer":[
{"data":{"name":"pts"},"transform":[{"filter":"datum.p=='13'"}],"mark":{"type":"point","filled":false,"color":"black","strokeWidth":1.2,"size":45,"opacity":1},"encoding":{"x":{"field":"x","type":"quantitative","scale":{"domain":[0,10]},"axis":{"values":[2,4,6,8],"labels":false,"title":null}},"y":{"field":"y","type":"quantitative","scale":{"domain":[0,30]},"axis":{"values":[0,10,20,30],"labels":false,"title":null}},"shape":{"field":"m","type":"nominal","scale":{"domain":["o","s","t","d"],"range":["circle","square","triangle-up","diamond"]},"legend":null}}},
{"data":{"name":"fit"},"transform":[{"filter":"datum.p=='13'"}],"mark":{"type":"line","color":"black","strokeWidth":1.1,"interpolate":"monotone"},"encoding":{"x":{"field":"x","type":"quantitative"},"y":{"field":"y","type":"quantitative"}}},
{"data":{"name":"lab"},"transform":[{"filter":"datum.p=='13'"}],"mark":{"type":"text","align":"right","font":"Liberation Serif","fontSize":9.5,"color":"black"},"encoding":{"text":{"field":"t"},"x":{"datum":9.45},"y":{"datum":2.55}}}]},
{"width":189,"height":142,"layer":[
{"data":{"name":"pts"},"transform":[{"filter":"datum.p=='21'"}],"mark":{"type":"point","filled":false,"color":"black","strokeWidth":1.2,"size":45,"opacity":1},"encoding":{"x":{"field":"x","type":"quantitative","scale":{"domain":[0,10]},"axis":{"values":[2,4,6,8],"labels":false,"title":null}},"y":{"field":"y","type":"quantitative","scale":{"domain":[0,300]},"axis":{"values":[0,100,200,300],"title":"MOR (MPa)","titlePadding":10}},"shape":{"field":"m","type":"nominal","scale":{"domain":["o","s","t","d"],"range":["circle","square","triangle-up","diamond"]},"legend":null}}},
{"data":{"name":"fit"},"transform":[{"filter":"datum.p=='21'"}],"mark":{"type":"line","color":"black","strokeWidth":1.1,"interpolate":"monotone"},"encoding":{"x":{"field":"x","type":"quantitative"},"y":{"field":"y","type":"quantitative"}}},
{"data":{"name":"lab"},"transform":[{"filter":"datum.p=='21'"}],"mark":{"type":"text","align":"right","font":"Liberation Serif","fontSize":9.5,"color":"black"},"encoding":{"text":{"field":"t"},"x":{"datum":9.45},"y":{"datum":25.5}}}]},
{"width":189,"height":142,"layer":[
{"data":{"name":"pts"},"transform":[{"filter":"datum.p=='22'"}],"mark":{"type":"point","filled":false,"color":"black","strokeWidth":1.2,"size":45,"opacity":1},"encoding":{"x":{"field":"x","type":"quantitative","scale":{"domain":[0,10]},"axis":{"values":[2,4,6,8],"labels":false,"title":null}},"y":{"field":"y","type":"quantitative","scale":{"domain":[0,300]},"axis":{"values":[0,100,200,300],"labels":false,"title":null}},"shape":{"field":"m","type":"nominal","scale":{"domain":["o","s","t","d"],"range":["circle","square","triangle-up","diamond"]},"legend":null}}},
{"data":{"name":"fit"},"transform":[{"filter":"datum.p=='22'"}],"mark":{"type":"line","color":"black","strokeWidth":1.1,"interpolate":"monotone"},"encoding":{"x":{"field":"x","type":"quantitative"},"y":{"field":"y","type":"quantitative"}}},
{"data":{"name":"lab"},"transform":[{"filter":"datum.p=='22'"}],"mark":{"type":"text","align":"right","font":"Liberation Serif","fontSize":9.5,"color":"black"},"encoding":{"text":{"field":"t"},"x":{"datum":9.45},"y":{"datum":25.5}}}]},
{"width":189,"height":142,"layer":[
{"data":{"name":"pts"},"transform":[{"filter":"datum.p=='23'"}],"mark":{"type":"point","filled":false,"color":"black","strokeWidth":1.2,"size":45,"opacity":1},"encoding":{"x":{"field":"x","type":"quantitative","scale":{"domain":[0,10]},"axis":{"values":[2,4,6,8],"labels":false,"title":null}},"y":{"field":"y","type":"quantitative","scale":{"domain":[0,300]},"axis":{"values":[0,100,200,300],"labels":false,"title":null}},"shape":{"field":"m","type":"nominal","scale":{"domain":["o","s","t","d"],"range":["circle","square","triangle-up","diamond"]},"legend":null}}},
{"data":{"name":"fit"},"transform":[{"filter":"datum.p=='23'"}],"mark":{"type":"line","color":"black","strokeWidth":1.1,"interpolate":"monotone"},"encoding":{"x":{"field":"x","type":"quantitative"},"y":{"field":"y","type":"quantitative"}}},
{"data":{"name":"lab"},"transform":[{"filter":"datum.p=='23'"}],"mark":{"type":"text","align":"right","font":"Liberation Serif","fontSize":9.5,"color":"black"},"encoding":{"text":{"field":"t"},"x":{"datum":9.45},"y":{"datum":25.5}}}]},
{"width":189,"height":142,"layer":[
{"data":{"name":"pts"},"transform":[{"filter":"datum.p=='31'"}],"mark":{"type":"point","filled":false,"color":"black","strokeWidth":1.2,"size":45,"opacity":1},"encoding":{"x":{"field":"x","type":"quantitative","scale":{"domain":[0,10]},"axis":{"values":[2,4,6,8],"labels":false,"title":null}},"y":{"field":"y","type":"quantitative","scale":{"domain":[0,120]},"axis":{"values":[0,40,80,120],"title":["Compressive","strength (MPa)"],"titlePadding":9,"titleLineHeight":18}},"shape":{"field":"m","type":"nominal","scale":{"domain":["o","s","t","d"],"range":["circle","square","triangle-up","diamond"]},"legend":null}}},
{"data":{"name":"fit"},"transform":[{"filter":"datum.p=='31'"}],"mark":{"type":"line","color":"black","strokeWidth":1.1,"interpolate":"monotone"},"encoding":{"x":{"field":"x","type":"quantitative"},"y":{"field":"y","type":"quantitative"}}},
{"data":{"name":"lab"},"transform":[{"filter":"datum.p=='31'"}],"mark":{"type":"text","align":"right","font":"Liberation Serif","fontSize":9.5,"color":"black"},"encoding":{"text":{"field":"t"},"x":{"datum":9.45},"y":{"datum":10.2}}}]},
{"width":189,"height":142,"layer":[
{"data":{"name":"pts"},"transform":[{"filter":"datum.p=='32'"}],"mark":{"type":"point","filled":false,"color":"black","strokeWidth":1.2,"size":45,"opacity":1},"encoding":{"x":{"field":"x","type":"quantitative","scale":{"domain":[0,10]},"axis":{"values":[2,4,6,8],"labels":false,"title":null}},"y":{"field":"y","type":"quantitative","scale":{"domain":[0,120]},"axis":{"values":[0,40,80,120],"labels":false,"title":null}},"shape":{"field":"m","type":"nominal","scale":{"domain":["o","s","t","d"],"range":["circle","square","triangle-up","diamond"]},"legend":null}}},
{"data":{"name":"fit"},"transform":[{"filter":"datum.p=='32'"}],"mark":{"type":"line","color":"black","strokeWidth":1.1,"interpolate":"monotone"},"encoding":{"x":{"field":"x","type":"quantitative"},"y":{"field":"y","type":"quantitative"}}},
{"data":{"name":"lab"},"transform":[{"filter":"datum.p=='32'"}],"mark":{"type":"text","align":"right","font":"Liberation Serif","fontSize":9.5,"color":"black"},"encoding":{"text":{"field":"t"},"x":{"datum":9.45},"y":{"datum":10.2}}}]},
{"width":189,"height":142,"layer":[
{"data":{"name":"pts"},"transform":[{"filter":"datum.p=='33'"}],"mark":{"type":"point","filled":false,"color":"black","strokeWidth":1.2,"size":45,"opacity":1},"encoding":{"x":{"field":"x","type":"quantitative","scale":{"domain":[0,10]},"axis":{"values":[2,4,6,8],"labels":false,"title":null}},"y":{"field":"y","type":"quantitative","scale":{"domain":[0,120]},"axis":{"values":[0,40,80,120],"labels":false,"title":null}},"shape":{"field":"m","type":"nominal","scale":{"domain":["o","s","t","d"],"range":["circle","square","triangle-up","diamond"]},"legend":null}}},
{"data":{"name":"fit"},"transform":[{"filter":"datum.p=='33'"}],"mark":{"type":"line","color":"black","strokeWidth":1.1,"interpolate":"monotone"},"encoding":{"x":{"field":"x","type":"quantitative"},"y":{"field":"y","type":"quantitative"}}},
{"data":{"name":"lab"},"transform":[{"filter":"datum.p=='33'"}],"mark":{"type":"text","align":"right","font":"Liberation Serif","fontSize":9.5,"color":"black"},"encoding":{"text":{"field":"t"},"x":{"datum":9.45},"y":{"datum":10.2}}}]},
{"width":189,"height":142,"layer":[
{"data":{"name":"pts"},"transform":[{"filter":"datum.p=='41'"}],"mark":{"type":"point","filled":false,"color":"black","strokeWidth":1.2,"size":45,"opacity":1},"encoding":{"x":{"field":"x","type":"quantitative","scale":{"domain":[0,10]},"axis":{"values":[2,4,6,8],"labels":false,"title":null}},"y":{"field":"y","type":"quantitative","scale":{"domain":[0,60]},"axis":{"values":[0,20,40,60],"title":["Tensile Young’s","modulus (GPa)"],"titlePadding":14,"titleLineHeight":18}},"shape":{"field":"m","type":"nominal","scale":{"domain":["o","s","t","d"],"range":["circle","square","triangle-up","diamond"]},"legend":null}}},
{"data":{"name":"fit"},"transform":[{"filter":"datum.p=='41'"}],"mark":{"type":"line","color":"black","strokeWidth":1.1,"interpolate":"monotone"},"encoding":{"x":{"field":"x","type":"quantitative"},"y":{"field":"y","type":"quantitative"}}},
{"data":{"name":"lab"},"transform":[{"filter":"datum.p=='41'"}],"mark":{"type":"text","align":"right","font":"Liberation Serif","fontSize":9.5,"color":"black"},"encoding":{"text":{"field":"t"},"x":{"datum":9.45},"y":{"datum":5.1}}}]},
{"width":189,"height":142,"layer":[
{"data":{"name":"pts"},"transform":[{"filter":"datum.p=='42'"}],"mark":{"type":"point","filled":false,"color":"black","strokeWidth":1.2,"size":45,"opacity":1},"encoding":{"x":{"field":"x","type":"quantitative","scale":{"domain":[0,10]},"axis":{"values":[2,4,6,8],"labels":false,"title":null}},"y":{"field":"y","type":"quantitative","scale":{"domain":[0,60]},"axis":{"values":[0,20,40,60],"labels":false,"title":null}},"shape":{"field":"m","type":"nominal","scale":{"domain":["o","s","t","d"],"range":["circle","square","triangle-up","diamond"]},"legend":null}}},
{"data":{"name":"fit"},"transform":[{"filter":"datum.p=='42'"}],"mark":{"type":"line","color":"black","strokeWidth":1.1,"interpolate":"monotone"},"encoding":{"x":{"field":"x","type":"quantitative"},"y":{"field":"y","type":"quantitative"}}},
{"data":{"name":"lab"},"transform":[{"filter":"datum.p=='42'"}],"mark":{"type":"text","align":"right","font":"Liberation Serif","fontSize":9.5,"color":"black"},"encoding":{"text":{"field":"t"},"x":{"datum":9.45},"y":{"datum":5.1}}}]},
{"width":189,"height":142,"layer":[
{"data":{"name":"pts"},"transform":[{"filter":"datum.p=='43'"}],"mark":{"type":"point","filled":false,"color":"black","strokeWidth":1.2,"size":45,"opacity":1},"encoding":{"x":{"field":"x","type":"quantitative","scale":{"domain":[0,10]},"axis":{"values":[2,4,6,8],"labels":false,"title":null}},"y":{"field":"y","type":"quantitative","scale":{"domain":[0,60]},"axis":{"values":[0,20,40,60],"labels":false,"title":null}},"shape":{"field":"m","type":"nominal","scale":{"domain":["o","s","t","d"],"range":["circle","square","triangle-up","diamond"]},"legend":null}}},
{"data":{"name":"fit"},"transform":[{"filter":"datum.p=='43'"}],"mark":{"type":"line","color":"black","strokeWidth":1.1,"interpolate":"monotone"},"encoding":{"x":{"field":"x","type":"quantitative"},"y":{"field":"y","type":"quantitative"}}},
{"data":{"name":"lab"},"transform":[{"filter":"datum.p=='43'"}],"mark":{"type":"text","align":"right","font":"Liberation Serif","fontSize":9.5,"color":"black"},"encoding":{"text":{"field":"t"},"x":{"datum":9.45},"y":{"datum":5.1}}}]},
{"width":189,"height":142,"layer":[
{"data":{"name":"pts"},"transform":[{"filter":"datum.p=='51'"}],"mark":{"type":"point","filled":false,"color":"black","strokeWidth":1.2,"size":45,"opacity":1},"encoding":{"x":{"field":"x","type":"quantitative","scale":{"domain":[0,10]},"axis":{"values":[0,2,4,6,8,10],"title":null,"labelOverlap":false}},"y":{"field":"y","type":"quantitative","scale":{"domain":[0,450]},"axis":{"values":[0,150,300,450],"title":"Tensile  strength (MPa)","titlePadding":10}},"shape":{"field":"m","type":"nominal","scale":{"domain":["o","s","t","d"],"range":["circle","square","triangle-up","diamond"]},"legend":null}}},
{"data":{"name":"fit"},"transform":[{"filter":"datum.p=='51'"}],"mark":{"type":"line","color":"black","strokeWidth":1.1,"interpolate":"monotone"},"encoding":{"x":{"field":"x","type":"quantitative","axis":{"values":[0,2,4,6,8,10],"title":null,"labelOverlap":false}},"y":{"field":"y","type":"quantitative"}}},
{"data":{"name":"lab"},"transform":[{"filter":"datum.p=='51'"}],"mark":{"type":"text","align":"right","font":"Liberation Serif","fontSize":9.5,"color":"black"},"encoding":{"text":{"field":"t"},"x":{"datum":9.45,"axis":{"values":[0,2,4,6,8,10],"title":null,"labelOverlap":false}},"y":{"datum":38}}}]},
{"width":189,"height":142,"layer":[
{"data":{"name":"pts"},"transform":[{"filter":"datum.p=='52'"}],"mark":{"type":"point","filled":false,"color":"black","strokeWidth":1.2,"size":45,"opacity":1},"encoding":{"x":{"field":"x","type":"quantitative","scale":{"domain":[0,10]},"axis":{"values":[0,2,4,6,8,10],"title":"Height position (m)","titleFont":"Liberation Sans","titleFontSize":14,"titlePadding":12,"labelOverlap":false}},"y":{"field":"y","type":"quantitative","scale":{"domain":[0,450]},"axis":{"values":[0,150,300,450],"labels":false,"title":null}},"shape":{"field":"m","type":"nominal","scale":{"domain":["o","s","t","d"],"range":["circle","square","triangle-up","diamond"]},"legend":null}}},
{"data":{"name":"fit"},"transform":[{"filter":"datum.p=='52'"}],"mark":{"type":"line","color":"black","strokeWidth":1.1,"interpolate":"monotone"},"encoding":{"x":{"field":"x","type":"quantitative","axis":{"values":[0,2,4,6,8,10],"title":"Height position (m)","titleFont":"Liberation Sans","titleFontSize":14,"titlePadding":12,"labelOverlap":false}},"y":{"field":"y","type":"quantitative"}}},
{"data":{"name":"lab"},"transform":[{"filter":"datum.p=='52'"}],"mark":{"type":"text","align":"right","font":"Liberation Serif","fontSize":9.5,"color":"black"},"encoding":{"text":{"field":"t"},"x":{"datum":9.45,"axis":{"values":[0,2,4,6,8,10],"title":"Height position (m)","titleFont":"Liberation Sans","titleFontSize":14,"titlePadding":12,"labelOverlap":false}},"y":{"datum":38}}}]},
{"width":189,"height":142,"layer":[
{"data":{"name":"pts"},"transform":[{"filter":"datum.p=='53'"}],"mark":{"type":"point","filled":false,"color":"black","strokeWidth":1.2,"size":45,"opacity":1},"encoding":{"x":{"field":"x","type":"quantitative","scale":{"domain":[0,10]},"axis":{"values":[0,2,4,6,8,10],"title":null,"labelOverlap":false}},"y":{"field":"y","type":"quantitative","scale":{"domain":[0,450]},"axis":{"values":[0,150,300,450],"labels":false,"title":null}},"shape":{"field":"m","type":"nominal","scale":{"domain":["o","s","t","d"],"range":["circle","square","triangle-up","diamond"]},"legend":null}}},
{"data":{"name":"fit"},"transform":[{"filter":"datum.p=='53'"}],"mark":{"type":"line","color":"black","strokeWidth":1.1,"interpolate":"monotone"},"encoding":{"x":{"field":"x","type":"quantitative","axis":{"values":[0,2,4,6,8,10],"title":null,"labelOverlap":false}},"y":{"field":"y","type":"quantitative"}}},
{"data":{"name":"lab"},"transform":[{"filter":"datum.p=='53'"}],"mark":{"type":"text","align":"right","font":"Liberation Serif","fontSize":9.5,"color":"black"},"encoding":{"text":{"field":"t"},"x":{"datum":9.45,"axis":{"values":[0,2,4,6,8,10],"title":null,"labelOverlap":false}},"y":{"datum":38}}}]}
],
"config":{
"view":{"stroke":"black","strokeWidth":1},
"axis":{"grid":false,"domain":false,"ticks":true,"tickColor":"black","tickSize":-4,"labelFont":"Liberation Serif","labelFontSize":13,"labelColor":"black","labelFlush":false,"labelOverlap":false,"titleFont":"Liberation Serif","titleFontSize":16,"titleFontWeight":"normal","titleColor":"black","labelPadding":17},
"axisX":{"labelPadding":12,"labelOverlap":false},
"title":{"font":"Liberation Serif","fontSize":13,"fontStyle":"italic","fontWeight":"normal","color":"black","offset":-1}
}
}
